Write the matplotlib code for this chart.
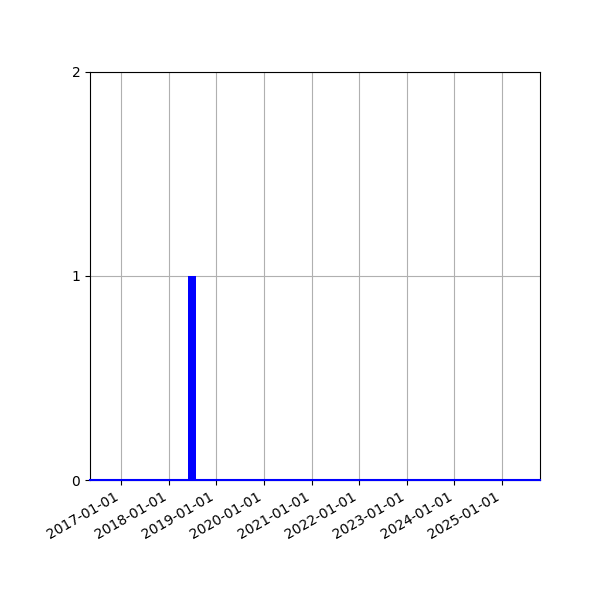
import matplotlib
matplotlib.use("Agg")
import matplotlib.pyplot as plt
import matplotlib.dates as mdates
import numpy as np
import datetime as dt

# Data
event_dates = ["2018-06-28"]
event_counts = [1]
range_start = "2016-05-05"
range_end = "2025-10-20"
yticks = [0, 1, 2]

d = [dt.datetime.fromisoformat(s) for s in event_dates]
x0 = dt.datetime.fromisoformat(range_start)
x1 = dt.datetime.fromisoformat(range_end)

fig = plt.figure(figsize=(6, 6), dpi=100)
ax = fig.add_axes([0.15, 0.2, 0.75, 0.68])

ax.plot([x0, x1], [0, 0], color="blue", linewidth=1.5, zorder=3, clip_on=False)
ax.bar(d, event_counts, width=66, color="blue", zorder=3)

ax.set_xlim(x0, x1)
ax.set_ylim(0, 2)
ax.set_yticks(yticks)
ax.xaxis.set_major_locator(mdates.YearLocator())
ax.xaxis.set_major_formatter(mdates.DateFormatter("%Y-%m-%d"))
ax.grid(True, color="#b0b0b0", linewidth=0.8)
ax.set_axisbelow(True)
for lbl in ax.get_xticklabels():
    lbl.set_rotation(30)
    lbl.set_ha("right")

fig.savefig("out.png", dpi=100)
